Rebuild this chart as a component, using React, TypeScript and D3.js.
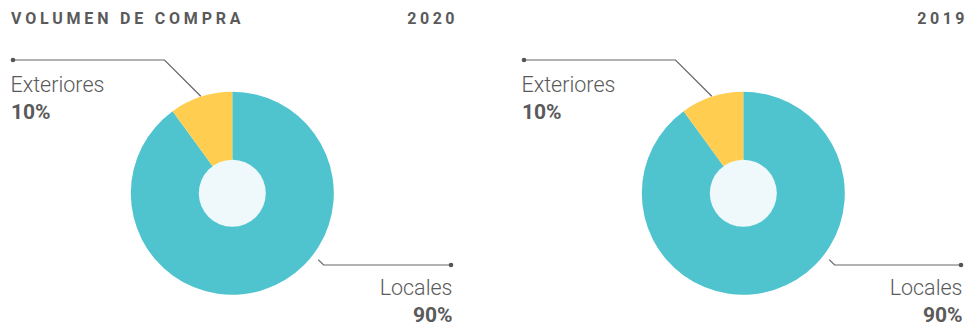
import React from "react";
import * as d3 from "d3";

const title = "VOLUMEN DE COMPRA";
const categories = ["Locales", "Exteriores"];
const years = ["2020", "2019"];
const values2020 = [90, 10];
const values2019 = [90, 10];
const colors = ["#4fc4cf", "#ffce50"];

const W = 968;
const H = 329;
const R = 101.5;
const r0 = 33.5;
const textColor = "#5a5a5a";
const font = "Roboto, 'DejaVu Sans', sans-serif";

type PanelProps = { cx: number; cy: number; values: number[]; year: string; left: number; right: number; showTitle: boolean };

function Panel({ cx, cy, values, year, left, right, showTitle }: PanelProps) {
  const data = categories.map((c, i) => ({ c, v: values[i] }));
  const pie = d3.pie<{ c: string; v: number }>().sort(null).value((d) => d.v);
  const arcs = pie(data);
  const arc = d3.arc<d3.PieArcDatum<{ c: string; v: number }>>().innerRadius(0).outerRadius(R);
  const ext = arcs[1];
  const loc = arcs[0];
  const extMid = (ext.startAngle + ext.endAngle) / 2;
  const pt = (a: number, rad: number) => [cx + Math.sin(a) * rad, cy - Math.cos(a) * rad];
  const [ex, ey] = pt(extMid, R + 0.5);
  const extY = 60;
  const extBend = ex - (ey - extY);
  const locAngle = loc.startAngle + (loc.endAngle - loc.startAngle) * 0.394;
  const [lx, ly] = pt(locAngle, R + 7);
  const locY = 265;
  const locBend = lx + (locY - ly);
  const fmt = (v: number) => `${v}%`;
  return (
    <g>
      {showTitle && (
        <text x={left} y={24} fontFamily={font} fontWeight={700} fontSize={16} letterSpacing={3.8} fill={textColor}>
          {title}
        </text>
      )}
      <text x={right + 7} y={24} textAnchor="end" fontFamily={font} fontWeight={700} fontSize={16} letterSpacing={3.5} fill={textColor}>
        {year}
      </text>
      <g transform={`translate(${cx},${cy})`}>
        {arcs.map((a, i) => (
          <path key={i} d={arc(a) || ""} fill={colors[i]} />
        ))}
        <circle r={r0} fill="#eff8fa" />
      </g>
      <path d={`M${left + 2},${extY} L${extBend},${extY} L${ex},${ey}`} fill="none" stroke="#666" strokeWidth={1.2} />
      <circle cx={left + 2} cy={extY} r={2.3} fill="#555" />
      <text x={left - 0.5} y={92} fontFamily={font} fontWeight={300} fontSize={21.5} fill={textColor}>
        {ext.data.c}
      </text>
      <text x={left} y={119} fontFamily={font} fontWeight={700} fontSize={21} fill={textColor}>
        {fmt(ext.data.v)}
      </text>
      <path d={`M${lx},${ly} L${locBend},${locY} L${right},${locY}`} fill="none" stroke="#666" strokeWidth={1.2} />
      <circle cx={right} cy={locY} r={2.3} fill="#555" />
      <text x={right + 1.5} y={295} textAnchor="end" fontFamily={font} fontWeight={300} fontSize={21.5} fill={textColor}>
        {loc.data.c}
      </text>
      <text x={right + 1.5} y={322} textAnchor="end" fontFamily={font} fontWeight={700} fontSize={21} fill={textColor}>
        {fmt(loc.data.v)}
      </text>
    </g>
  );
}

export default function App() {
  return (
    <svg width={W} height={H} style={{ position: "absolute", left: 0, top: 0, background: "#fff" }}>
      <Panel cx={232.3} cy={193.3} values={values2020} year={years[0]} left={11} right={451} showTitle={true} />
      <Panel cx={743.3} cy={193.3} values={values2019} year={years[1]} left={522} right={961} showTitle={false} />
    </svg>
  );
}
